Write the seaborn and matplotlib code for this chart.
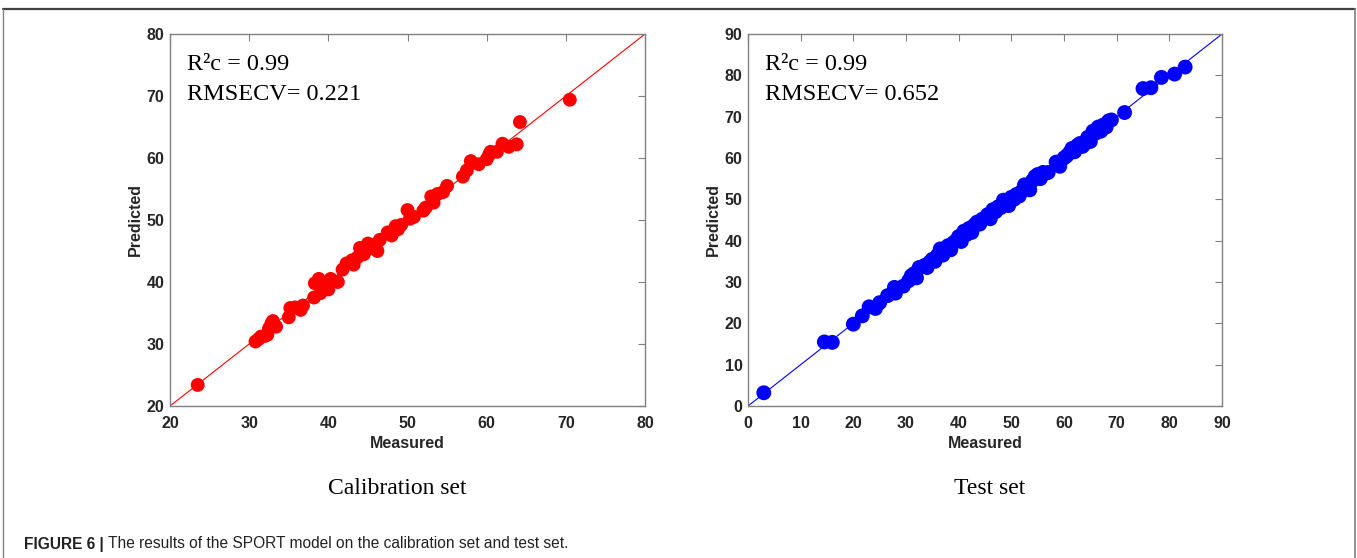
import numpy as np
import pandas as pd
import matplotlib
matplotlib.use("Agg")
import matplotlib.pyplot as plt
from matplotlib.lines import Line2D
import seaborn as sns

# ---- data ----
cal_measured = [23.5, 30.8, 31.2, 31.5, 32.0, 32.3, 32.5, 32.8, 33.0, 33.4,
                35.0, 35.2, 35.8, 36.5, 36.8,
                38.2, 38.3, 38.8, 39.0, 39.2, 39.8, 40.0, 40.3, 41.2,
                41.8, 42.3, 43.0, 43.2, 43.7, 44.0, 44.5, 45.0, 45.3, 45.7, 46.2, 46.5,
                47.5, 48.0, 48.5, 48.8, 49.2, 50.0, 50.3, 50.8,
                52.0, 52.3, 53.0, 53.3, 53.8, 54.5, 55.0,
                57.0, 57.5, 58.0, 59.0, 60.0, 60.3, 60.5, 61.3, 62.0, 62.8, 63.8, 64.2,
                70.5]
cal_predicted = [23.4, 30.4, 30.8, 31.2, 31.3, 31.5, 32.5, 33.3, 33.7, 32.8,
                 34.3, 35.8, 35.9, 35.5, 36.2,
                 37.5, 39.8, 40.5, 38.2, 39.5, 39.0, 38.8, 40.5, 40.0,
                 42.0, 43.0, 43.5, 42.8, 44.0, 45.5, 44.5, 46.2, 45.5, 46.0, 45.0, 46.8,
                 48.0, 47.5, 49.0, 48.5, 49.2, 51.6, 50.2, 50.5,
                 51.5, 52.0, 53.8, 52.8, 54.2, 54.5, 55.5,
                 57.0, 58.0, 59.5, 59.0, 59.8, 60.5, 61.0, 61.0, 62.3, 61.8, 62.2, 65.8,
                 69.4]

test_measured = [3.0, 14.5, 16.0, 20.0, 21.7, 23.0, 24.2, 25.0, 26.5, 27.8, 28.0, 29.5,
                 30.5, 31.0, 31.5, 32.0, 32.5, 33.5, 34.0, 34.5, 35.0, 35.5, 36.0, 36.5,
                 37.0, 37.5, 38.0, 38.5, 39.0, 39.5, 40.0, 40.5, 41.0, 41.5, 42.0, 42.5,
                 43.0, 43.5, 44.0, 44.5, 45.0, 45.5, 46.0, 46.5, 47.0, 47.5, 48.0, 48.5,
                 49.0, 49.5, 50.0, 50.5, 51.0, 51.5, 52.0, 52.5, 53.0, 53.5, 54.0, 54.5,
                 55.0, 55.5, 56.0, 56.5, 57.0, 58.5, 59.2, 60.0, 60.5, 61.0, 61.5, 62.0,
                 62.5, 63.0, 63.5, 64.0, 64.5, 65.0, 65.5, 66.0, 66.5, 67.0, 67.5, 68.0,
                 68.5, 69.0, 71.5, 75.0, 76.5, 78.5, 81.0, 83.0]
test_predicted = [3.2, 15.5, 15.4, 19.8, 21.8, 24.0, 23.6, 25.0, 26.7, 28.7, 27.3, 29.0,
                  30.3, 31.5, 32.0, 31.0, 33.5, 34.0, 33.5, 34.8, 35.5, 35.0, 36.5, 38.0,
                  36.5, 37.5, 38.8, 37.8, 39.5, 40.0, 41.0, 39.8, 42.3, 41.5, 43.0, 42.0,
                  43.8, 44.5, 44.0, 45.2, 45.5, 46.3, 45.3, 47.5, 47.0, 48.2, 48.0, 49.8,
                  49.0, 48.5, 50.5, 50.0, 51.2, 50.8, 52.0, 53.5, 53.0, 52.3, 54.5, 55.5,
                  56.0, 55.0, 56.5, 56.3, 56.5, 59.0, 58.0, 60.0, 60.5, 61.2, 62.3, 61.5,
                  63.0, 63.5, 62.8, 63.5, 65.0, 64.0, 66.5, 66.0, 67.5, 66.5, 68.0, 67.5,
                  69.0, 69.2, 71.0, 76.8, 77.0, 79.5, 80.3, 82.0]

cal_ticks = [20, 30, 40, 50, 60, 70, 80]
test_ticks = [0, 10, 20, 30, 40, 50, 60, 70, 80, 90]
cal_stats = ["R\u00b2c = 0.99", "RMSECV= 0.221"]
test_stats = ["R\u00b2c = 0.99", "RMSECV= 0.652"]
panel_titles = ["Calibration set", "Test set"]
caption_bold = "FIGURE 6 |"
caption_text = " The results of the SPORT model on the calibration set and test set."

# ---- style ----
sns.set_style("white")
plt.rcParams["font.family"] = ["Liberation Sans", "DejaVu Sans"]

W, H = 1357, 558
fig = plt.figure(figsize=(W / 100, H / 100), dpi=100)
fig.patch.set_facecolor("white")

def px_axes(x0, x1, y0, y1):
    return [x0 / W, 1 - y1 / H, (x1 - x0) / W, (y1 - y0) / H]

ax1 = fig.add_axes(px_axes(170, 645, 34, 406))
ax2 = fig.add_axes(px_axes(748, 1222, 34, 406))

panels = [
    (ax1, cal_measured, cal_predicted, cal_ticks, "#ff0000", cal_stats, 100),
    (ax2, test_measured, test_predicted, test_ticks, "#0000ff", test_stats, 115),
]

serif = ["Liberation Serif", "DejaVu Serif"]

for ax, xs, ys, ticks, col, stats, size in panels:
    df = pd.DataFrame({"Measured": xs, "Predicted": ys})
    lo, hi = ticks[0], ticks[-1]
    diag = pd.DataFrame({"x": [lo, hi], "y": [lo, hi]})
    sns.lineplot(data=diag, x="x", y="y", ax=ax, color=col, linewidth=0.8, zorder=1)
    sns.scatterplot(data=df, x="Measured", y="Predicted", ax=ax, color=col,
                    s=size, edgecolor="none", linewidth=0, zorder=2)
    ax.set_xlim(lo, hi)
    ax.set_ylim(lo, hi)
    ax.set_xticks(ticks)
    ax.set_yticks(ticks)
    ax.tick_params(direction="in", length=5, width=0.8, color="#808080",
                   top=True, right=True, labelsize=11.5, labelcolor="#262626", pad=4)
    ax.tick_params(axis="x", pad=7)
    for lab in ax.get_xticklabels() + ax.get_yticklabels():
        lab.set_fontweight("bold")
    for sp in ax.spines.values():
        sp.set_color("#808080")
        sp.set_linewidth(1.0)
    ax.set_xlabel("Measured", fontsize=11.5, fontweight="bold", color="#262626", labelpad=4)
    ax.set_ylabel("Predicted", fontsize=11.5, fontweight="bold", color="#262626", labelpad=3)
    ax.text(0.035, 0.918, stats[0], transform=ax.transAxes, ha="left", va="center",
            fontsize=17.5, family=serif, color="black")
    ax.text(0.035, 0.838, stats[1], transform=ax.transAxes, ha="left", va="center",
            fontsize=17.5, family=serif, color="black")

fig.text(397 / W, 1 - 488 / H, panel_titles[0], ha="center", va="center",
         fontsize=17, family=serif, color="black")
fig.text(990 / W, 1 - 488 / H, panel_titles[1], ha="center", va="center",
         fontsize=17, family=serif, color="black")

t1 = fig.text(24 / W, 1 - 544 / H, caption_bold, ha="left", va="center",
              fontsize=11.2, fontweight="bold", color="#222222")
fig.canvas.draw()
bb = t1.get_window_extent()
fig.text(bb.x1 / W, 1 - 544 / H, caption_text, ha="left", va="center",
         fontsize=11.2, color="#222222")

# figure frame (top, left, right)
fig.add_artist(Line2D([3 / W, 1355 / W], [1 - 9 / H, 1 - 9 / H], transform=fig.transFigure,
                      color="#404040", linewidth=1.6))
fig.add_artist(Line2D([3 / W, 3 / W], [1 - 9 / H, 0], transform=fig.transFigure,
                      color="#808080", linewidth=1.0))
fig.add_artist(Line2D([1355 / W, 1355 / W], [1 - 9 / H, 0], transform=fig.transFigure,
                      color="#808080", linewidth=1.2))

fig.savefig("out.png", dpi=100, facecolor="white")
